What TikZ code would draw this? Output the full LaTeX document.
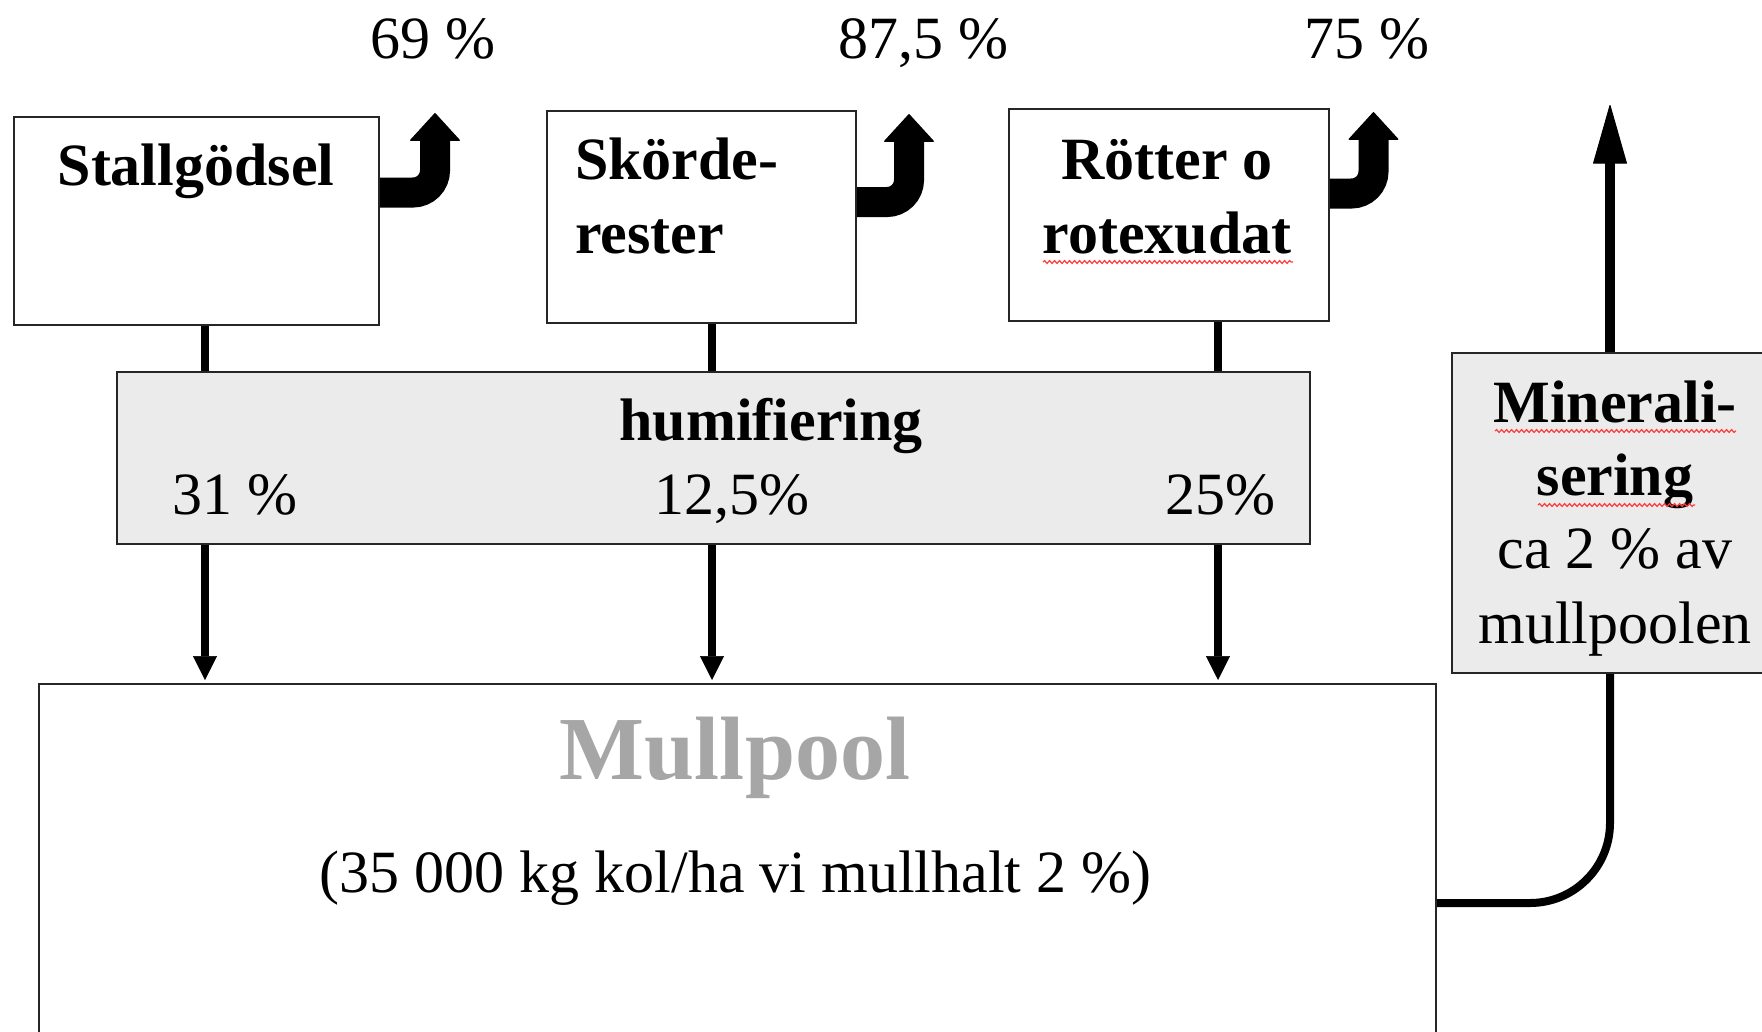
\documentclass[tikz,border=0pt]{standalone}
\usepackage{fontspec}
\setmainfont{Liberation Serif}
\usetikzlibrary{arrows.meta,decorations.pathmorphing}
\definecolor{boxgray}{HTML}{EBEBEB}
\definecolor{mullgray}{HTML}{A6A6A6}
\definecolor{squig}{HTML}{FF3B3B}
\begin{document}
\begin{tikzpicture}[x=1pt,y=-1pt,
  box/.style={draw=black!85, line width=2pt, rectangle, inner sep=0pt, anchor=north west},
  plainbox/.style={box, fill=white},
  graybox/.style={box, fill=boxgray},
  txt/.style={inner sep=0pt, anchor=base, font=\fontsize{60}{73}\selectfont},
  btxt/.style={inner sep=0pt, anchor=base, font=\fontsize{60}{73}\selectfont\bfseries},
  flow/.style={line width=8pt, -{Triangle[width=24pt,length=24pt,line width=0.5pt]}, shorten >=3pt},
  link/.style={line width=8pt},
  bent/.style={line width=30pt, rounded corners=22pt, -{Triangle[width=51pt,length=28pt,line width=1pt,round]}},
  rise/.style={line width=10pt, -{Triangle[width=34pt,length=60pt,line width=1pt,round]}},
  ret/.style={line width=8pt, rounded corners=80pt},
  squiggle/.style={draw=squig, line width=1.2pt, decorate, decoration={snake, amplitude=1.4pt, segment length=5pt}}
]
\clip (0,0) rectangle (1762,1031);
\fill[white] (0,0) rectangle (1762,1031);

% boxes
\node[plainbox, minimum width=365pt, minimum height=208pt] (stall) at (13,116) {};
\node[plainbox, minimum width=309pt, minimum height=212pt] (skord) at (546,110) {};
\node[plainbox, minimum width=320pt, minimum height=212pt] (rott) at (1008,108) {};
\node[plainbox, minimum width=1397pt, minimum height=400pt] (mull) at (38,683) {};

% column coordinates
\coordinate (c1) at (205,0);
\coordinate (c2) at (712,0);
\coordinate (c3) at (1218,0);
\coordinate (mx) at (1610,0);
\coordinate (mtop) at (1610,105);

% links from source boxes into humifiering (behind gray box)
\draw[link] (stall.south -| c1) -- (c1 |- 0,380);
\draw[link] (skord.south -| c2) -- (c2 |- 0,380);
\draw[link] (rott.south -| c3) -- (c3 |- 0,380);

\node[graybox, minimum width=1193pt, minimum height=172pt] (humif) at (116,371) {};
\node[graybox, minimum width=330pt, minimum height=320pt] (miner) at (1451,352) {};

% humifiering to mullpool
\draw[flow] (humif.south -| c1) -- (mull.north -| c1);
\draw[flow] (humif.south -| c2) -- (mull.north -| c2);
\draw[flow] (humif.south -| c3) -- (mull.north -| c3);

% bent loss arrows
\draw[bent] ([yshift=-76.5pt]stall.north east) -| (435,113);
\draw[bent] ([yshift=-92pt]skord.north east) -| (909,114);
\draw[bent] ([yshift=-85.5pt]rott.north east) -| (1373.5,112);

% mineralisation
\draw[ret] ([yshift=-220pt]mull.north east) -| (miner.south -| mx);
\draw[rise] (miner.north -| mx) -- (mtop);

% texts
\node[txt] (p69) at (433,58) {69 \%};
\node[txt] (p875) at (923,58) {87,5 \%};
\node[txt] (p75) at (1367,58) {75 \%};

\node[btxt] (tstall) at (196,185) {Stallgödsel};
\node[btxt, anchor=base west] (tskord1) at (575,179) {Skörde-};
\node[btxt, anchor=base west] (tskord2) at (575,253) {rester};
\node[btxt] (trott1) at (1167,179) {Rötter o};
\node[btxt] (trott2) at (1167,253) {rotexudat};

\node[btxt] (thum) at (771,440) {humifiering};
\node[txt] (h31) at (235,514) {31 \%};
\node[txt] (h125) at (732,514) {12,5\%};
\node[txt] (h25) at (1220,514) {25\%};

\node[btxt] (tmin1) at (1615,422) {Minerali-};
\node[btxt] (tmin2) at (1615,495) {sering};
\node[txt] (tmin3) at (1615,568) {ca 2 \% av};
\node[txt] (tmin4) at (1615,643) {mullpoolen};

\node[inner sep=0pt, anchor=base, text=mullgray, font=\fontsize{90}{100}\selectfont\bfseries] (tmull) at (735,779) {Mullpool};
\node[txt] (tmullsub) at (735.5,892) {(35 000 kg kol/ha vi mullhalt 2 \%)};

% spell-check squiggles
\draw[squiggle] (1043,262) -- (1293,262);
\draw[squiggle] (1495,431) -- (1736,431);
\draw[squiggle] (1538,505) -- (1695,505);
\end{tikzpicture}
\end{document}
